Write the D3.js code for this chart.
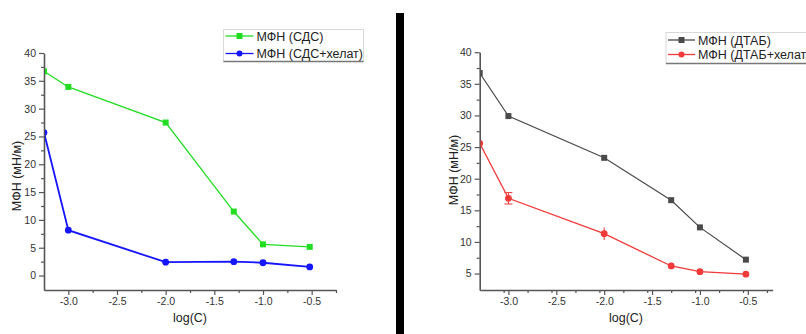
<!DOCTYPE html>
<html><head><meta charset="utf-8">
<script src="https://cdn.jsdelivr.net/npm/d3@7"></script>
<style>
html,body{margin:0;padding:0;background:#fff;}
svg{display:block;font-family:"Liberation Sans",Arial,sans-serif;}
</style></head>
<body><svg id="c" width="806" height="334"></svg>
<script>
// Left chart (СДС)
const xLeft = [-3.25, -3.0, -2.0, -1.3, -1.0, -0.52];
const sdsValues = [36.7, 33.9, 27.5, 11.5, 5.6, 5.15];
const sdsChelateValues = [25.7, 8.15, 2.4, 2.5, 2.3, 1.55];
const sdsChelateErr = [0, 0.4, 0, 0, 0, 0];
// Right chart (ДТАБ)
const xRight = [-3.3, -3.0, -2.0, -1.3, -1.0, -0.52];
const dtabValues = [36.7, 29.9, 23.3, 16.6, 12.3, 7.2];
const dtabChelateValues = [25.6, 16.9, 11.3, 6.2, 5.3, 4.9];
const dtabChelateErr = [0, 0.9, 1.0, 0, 0, 0];
// Ticks
const xTicksMajor = [-3.0, -2.5, -2.0, -1.5, -1.0, -0.5];
const yTicksLeft = [0, 5, 10, 15, 20, 25, 30, 35, 40];
const yTicksRight = [5, 10, 15, 20, 25, 30, 35, 40];
const legendLeft = ["МФН (СДС)", "МФН (СДС+хелат)"];
const legendRight = ["МФН (ДТАБ)", "МФН (ДТАБ+хелат)"];
const xTitle = "log(C)";
const yTitle = "МФН (мН/м)";

const svg = d3.select("#c");

// separator bar
svg.append("rect").attr("x",396).attr("y",13).attr("width",8).attr("height",321).attr("fill","#000");

function panel(cfg){
  const x = d3.scaleLinear().domain(cfg.xDomain).range(cfg.xRange);
  const y = d3.scaleLinear().domain(cfg.yDomain).range(cfg.yRange);
  const g = svg.append("g");
  const axisCol = "#555";
  const clipId = "clip"+cfg.id;
  svg.append("clipPath").attr("id",clipId).append("rect")
    .attr("x",cfg.xRange[0]+1).attr("y",0)
    .attr("width",cfg.xRange[1]-cfg.xRange[0]+20).attr("height",cfg.yRange[0]-1);

  const xMinor = d3.range(cfg.xDomain[0], cfg.xDomain[1]+1e-9, 0.25).map(v=>Math.round(v*100)/100)
    .filter(v=>!xTicksMajor.includes(v) && v>cfg.xDomain[0]+0.01);
  // X axis
  const xa = g.append("g").attr("transform",`translate(0,${cfg.yRange[0]})`)
    .call(d3.axisBottom(x).tickValues(xTicksMajor).tickSizeInner(5).tickSizeOuter(0).tickPadding(3));
  xa.select(".domain").attr("stroke",axisCol).attr("stroke-width",1.6);
  xa.selectAll(".tick line").attr("stroke",axisCol).attr("stroke-width",1.2);
  xa.selectAll("text").attr("fill","#333").style("font-size","10.5px").text(d=>d3.format(".1f")(d).replace("−","-"));
  g.append("g").attr("transform",`translate(0,${cfg.yRange[0]})`)
    .call(d3.axisBottom(x).tickValues(xMinor).tickFormat("").tickSizeInner(3).tickSizeOuter(0))
    .call(s=>{s.select(".domain").remove(); s.selectAll("line").attr("stroke",axisCol).attr("stroke-width",1.2);});

  // Y axis
  const yMinor = cfg.yTicks.map(v=>v+2.5).filter(v=>v<cfg.yDomain[1]);
  const ya = g.append("g").attr("transform",`translate(${cfg.xRange[0]},0)`)
    .call(d3.axisLeft(y).tickValues(cfg.yTicks).tickSizeInner(5).tickSizeOuter(0).tickPadding(3));
  ya.select(".domain").attr("stroke",axisCol).attr("stroke-width",1.6);
  ya.selectAll(".tick line").attr("stroke",axisCol).attr("stroke-width",1.2);
  ya.selectAll("text").attr("fill","#333").style("font-size","10.5px");
  g.append("g").attr("transform",`translate(${cfg.xRange[0]},0)`)
    .call(d3.axisLeft(y).tickValues(yMinor).tickFormat("").tickSizeInner(3).tickSizeOuter(0))
    .call(s=>{s.select(".domain").remove(); s.selectAll("line").attr("stroke",axisCol).attr("stroke-width",1.2);});

  // titles
  g.append("text").attr("x",cfg.xTitlePos[0]).attr("y",cfg.xTitlePos[1]).attr("text-anchor","middle")
    .attr("fill","#222").style("font-size","12.5px").text(xTitle);
  g.append("text").attr("transform",`translate(${cfg.yTitlePos[0]},${cfg.yTitlePos[1]}) rotate(-90)`)
    .attr("text-anchor","middle").attr("fill","#222").style("font-size","12.5px").text(yTitle);

  const plot = g.append("g").attr("clip-path",`url(#${clipId})`);
  const line = d3.line().x((d,i)=>x(cfg.xs[i])).y(d=>y(d));
  cfg.series.forEach(s=>{
    plot.append("path").datum(s.values).attr("d",line).attr("fill","none")
      .attr("stroke",s.color).attr("stroke-width",s.width);
    if(s.err){
      s.err.forEach((e,i)=>{
        if(!e) return;
        const cx = x(cfg.xs[i]);
        plot.append("line").attr("x1",cx).attr("x2",cx).attr("y1",y(s.values[i]-e)).attr("y2",y(s.values[i]+e))
          .attr("stroke",s.color).attr("stroke-width",1);
        if(s.caps && s.caps[i]){
          [s.values[i]-e, s.values[i]+e].forEach(v=>{
            plot.append("line").attr("x1",cx-4).attr("x2",cx+4).attr("y1",y(v)).attr("y2",y(v))
              .attr("stroke",s.color).attr("stroke-width",1);
          });
        }
      });
    }
    s.values.forEach((v,i)=>{
      const cx = x(cfg.xs[i]), cy = y(v);
      if(s.marker==="square"){
        plot.append("rect").attr("x",cx-3).attr("y",cy-3).attr("width",6).attr("height",6).attr("fill",s.color);
      } else {
        plot.append("circle").attr("cx",cx).attr("cy",cy).attr("r",3.4).attr("fill",s.color);
      }
    });
  });

  // legend
  const L = cfg.legend;
  const lg = svg.append("g");
  lg.append("rect").attr("x",L.x).attr("y",L.y).attr("width",L.w).attr("height",L.h)
    .attr("fill","#fff").attr("stroke","#d8d8d8").attr("stroke-width",1);
  lg.append("line").attr("x1",L.x).attr("x2",L.x+L.w).attr("y1",L.y+L.h).attr("y2",L.y+L.h)
    .attr("stroke","#777").attr("stroke-width",1.5);
  cfg.series.forEach((s,i)=>{
    const yy = L.y + L.rows[i];
    lg.append("line").attr("x1",L.x+2).attr("x2",L.x+L.lineW).attr("y1",yy).attr("y2",yy)
      .attr("stroke",s.color).attr("stroke-width",1.3);
    const mx = L.x + 2 + (L.lineW-2)/2;
    if(s.marker==="square") lg.append("rect").attr("x",mx-3).attr("y",yy-3).attr("width",6).attr("height",6).attr("fill",s.color);
    else lg.append("circle").attr("cx",mx).attr("cy",yy).attr("r",3).attr("fill",s.color);
    lg.append("text").attr("x",L.x+L.lineW+3).attr("y",yy+4.5).attr("fill","#222")
      .style("font-size","12.5px").text(L.labels[i]);
  });
}

panel({
  id:"L",
  xDomain:[-3.25,-0.25], xRange:[44,336],
  yDomain:[-2.6,40], yRange:[290,53],
  yTicks:yTicksLeft, xs:xLeft,
  xTitlePos:[190,322], yTitlePos:[21,176],
  series:[
    {values:sdsValues,color:"#22dd22",width:1.3,marker:"square"},
    {values:sdsChelateValues,color:"#1515ff",width:1.8,marker:"circle",err:sdsChelateErr,caps:[0,0,0,0,0,0]}
  ],
  legend:{x:223.5,y:29.5,w:140,h:32,rows:[6.5,24],lineW:30,labels:legendLeft}
});

panel({
  id:"R",
  xDomain:[-3.3,-0.24], xRange:[479.7,772.7],
  yDomain:[2.4,40], yRange:[290,52.2],
  yTicks:yTicksRight, xs:xRight,
  xTitlePos:[626,322], yTitlePos:[458,170],
  series:[
    {values:dtabValues,color:"#4a4a4a",width:1.2,marker:"square"},
    {values:dtabChelateValues,color:"#f23a3a",width:1.3,marker:"circle",err:dtabChelateErr,caps:[0,1,0,0,0,0]}
  ],
  legend:{x:666,y:32.5,w:160,h:31,rows:[7.5,22],lineW:29,labels:legendRight}
});
</script></body></html>
